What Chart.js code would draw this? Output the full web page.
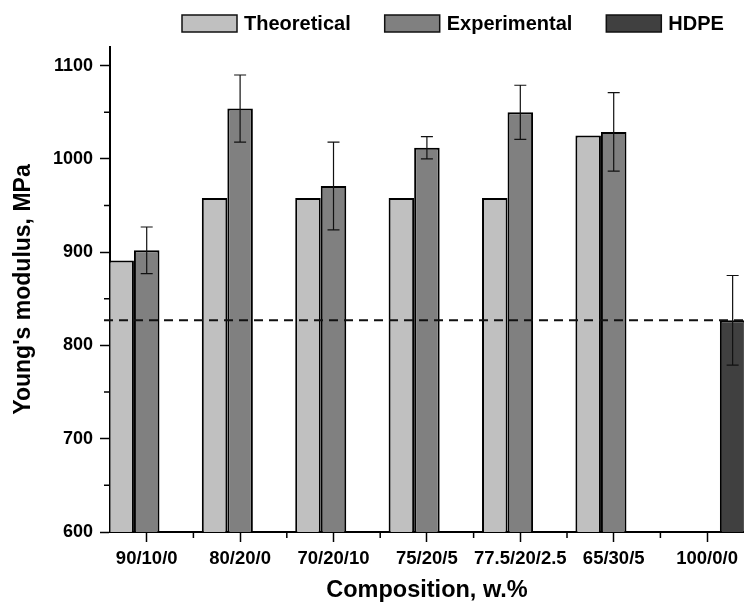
<!DOCTYPE html>
<html>
<head>
<meta charset="utf-8">
<script src="https://cdn.jsdelivr.net/npm/chart.js@4/dist/chart.umd.min.js"></script>
<style>
  body { margin: 0; background: #fff; }
  #wrap { width: 744px; height: 605px; }
</style>
</head>
<body>
<div id="wrap"><canvas id="draw-on-me" width="744" height="605"></canvas></div>
<script>
'use strict';

// compositions on the x axis
const categories = ['90/10/0', '80/20/0', '70/20/10', '75/20/5', '77.5/20/2.5', '65/30/5', '100/0/0'];
const theoretical = [891, 958, 958, 958, 958, 1025, null];
const experimental = [902, 1054, 971, 1012, 1050, 1029, null];
const experimentalErr = [25, 36, 47, 12, 29, 42, null];
const hdpe = [null, null, null, null, null, null, 827];
const hdpeErr = [null, null, null, null, null, null, 48];
const yTicks = [600, 700, 800, 900, 1000, 1100];

const fontFamily = '"Liberation Sans", Arial, sans-serif';

// turn a value list into {x, y} points, x = 1..7
function toPoints (values) {
    return values.map((v, i) => ({ x: i + 1, y: v }));
}

// error bars, the dashed HDPE reference line and the minor ticks
const extras = {
    id: 'extras',
    afterDatasetsDraw (chart) {
        const ctx = chart.ctx;
        const area = chart.chartArea;
        const yScale = chart.scales.y;
        const xScale = chart.scales.x;

        // dashed line at the HDPE value
        const hdpeValue = hdpe.find(v => v !== null);
        const yLine = yScale.getPixelForValue(hdpeValue);
        ctx.save();
        ctx.strokeStyle = '#111';
        ctx.lineWidth = 2;
        ctx.setLineDash([9, 6]);
        ctx.beginPath();
        ctx.moveTo(area.left - 6, yLine);
        ctx.lineTo(area.right, yLine);
        ctx.stroke();
        ctx.restore();

        // error bars
        chart.data.datasets.forEach((ds, di) => {
            if (!ds.errors) return;
            const meta = chart.getDatasetMeta(di);
            meta.data.forEach((bar, i) => {
                const v = ds.data[i].y;
                const e = ds.errors[i];
                if (v === null || e === null) return;
                const top = yScale.getPixelForValue(v + e);
                const bottom = yScale.getPixelForValue(v - e);
                ctx.save();
                ctx.strokeStyle = '#111';
                ctx.lineWidth = 1.2;
                ctx.beginPath();
                ctx.moveTo(bar.x, top);
                ctx.lineTo(bar.x, bottom);
                ctx.moveTo(bar.x - 6, top);
                ctx.lineTo(bar.x + 6, top);
                ctx.moveTo(bar.x - 6, bottom);
                ctx.lineTo(bar.x + 6, bottom);
                ctx.stroke();
                ctx.restore();
            });
        });

        // minor ticks on both axes
        ctx.save();
        ctx.strokeStyle = '#000';
        ctx.lineWidth = 1.5;
        ctx.beginPath();
        for (let v = 650; v < yScale.max; v += 100) {
            const y = yScale.getPixelForValue(v);
            ctx.moveTo(area.left - 6, y);
            ctx.lineTo(area.left, y);
        }
        for (let v = 1.5; v < xScale.max; v += 1) {
            const x = xScale.getPixelForValue(v);
            ctx.moveTo(x, area.bottom);
            ctx.lineTo(x, area.bottom + 6);
        }
        ctx.stroke();
        ctx.restore();
    },
    // legend row along the top: box, name, box, name ...
    afterDraw (chart) {
        const ctx = chart.ctx;
        let x = 182;
        const y = 15;
        ctx.save();
        ctx.font = 'bold 20px ' + fontFamily;
        ctx.textBaseline = 'middle';
        chart.data.datasets.forEach(ds => {
            ctx.fillStyle = ds.backgroundColor;
            ctx.fillRect(x, y, 55, 17);
            ctx.strokeStyle = '#111';
            ctx.lineWidth = 1.5;
            ctx.strokeRect(x, y, 55, 17);
            ctx.fillStyle = '#000';
            ctx.fillText(ds.label, x + 62, y + 9);
            x += 62 + ctx.measureText(ds.label).width + 34;
        });
        ctx.restore();
    }
};

let canvasElement = document.getElementById('draw-on-me').getContext('2d');

let myChart = {
    type: 'bar',
    data: {
        datasets: [{
            label: 'Theoretical',
            data: toPoints(theoretical),
            backgroundColor: '#c0c0c0',
            borderColor: '#000',
            borderWidth: 2
        },
        {
            label: 'Experimental',
            data: toPoints(experimental),
            errors: experimentalErr,
            backgroundColor: '#808080',
            borderColor: '#000',
            borderWidth: 2
        },
        {
            label: 'HDPE',
            data: toPoints(hdpe),
            errors: hdpeErr,
            backgroundColor: '#404040',
            borderColor: '#000',
            borderWidth: 2
        }]
    },
    options: {
        responsive: false,
        animation: false,
        devicePixelRatio: 1,
        categoryPercentage: 0.82,
        barPercentage: 1,
        layout: { padding: { top: 47, right: 0, left: 0, bottom: 0 } },
        plugins: {
            legend: { display: false },
            tooltip: { enabled: false }
        },
        scales: {
            x: {
                type: 'linear',
                offset: false,
                min: 0.607,
                max: 7.395,
                afterBuildTicks: (scale) => {
                    scale.ticks = categories.map((c, i) => ({ value: i + 1 }));
                },
                afterFit: (scale) => { scale.height = 73; },
                grid: {
                    offset: false,
                    drawOnChartArea: false,
                    tickLength: 10,
                    tickColor: '#000',
                    tickWidth: 1.5
                },
                border: { color: '#000', width: 2 },
                ticks: {
                    autoSkip: false,
                    maxRotation: 0,
                    padding: 6,
                    color: '#000',
                    font: { family: fontFamily, size: 18.5, weight: 'bold' },
                    callback: (v) => categories[v - 1] || ''
                },
                title: {
                    display: true,
                    text: 'Composition, w.%',
                    color: '#000',
                    padding: { top: 4, bottom: 0 },
                    font: { family: fontFamily, size: 23.5, weight: 'bold' }
                }
            },
            y: {
                min: 600,
                max: 1120,
                afterBuildTicks: (scale) => {
                    scale.ticks = yTicks.map(v => ({ value: v }));
                },
                afterFit: (scale) => { scale.width = 110; },
                grid: {
                    drawOnChartArea: false,
                    tickLength: 10,
                    tickColor: '#000',
                    tickWidth: 1.5
                },
                border: { color: '#000', width: 2 },
                ticks: {
                    padding: 7,
                    color: '#000',
                    font: { family: fontFamily, size: 18, weight: 'bold' },
                    callback: (v) => String(v)
                },
                title: {
                    display: true,
                    text: "Young's modulus, MPa",
                    color: '#000',
                    padding: { top: 10, bottom: 0 },
                    font: { family: fontFamily, size: 23, weight: 'bold' }
                }
            }
        }
    },
    plugins: [extras]
};

new Chart(canvasElement, myChart);
</script>
</body>
</html>
